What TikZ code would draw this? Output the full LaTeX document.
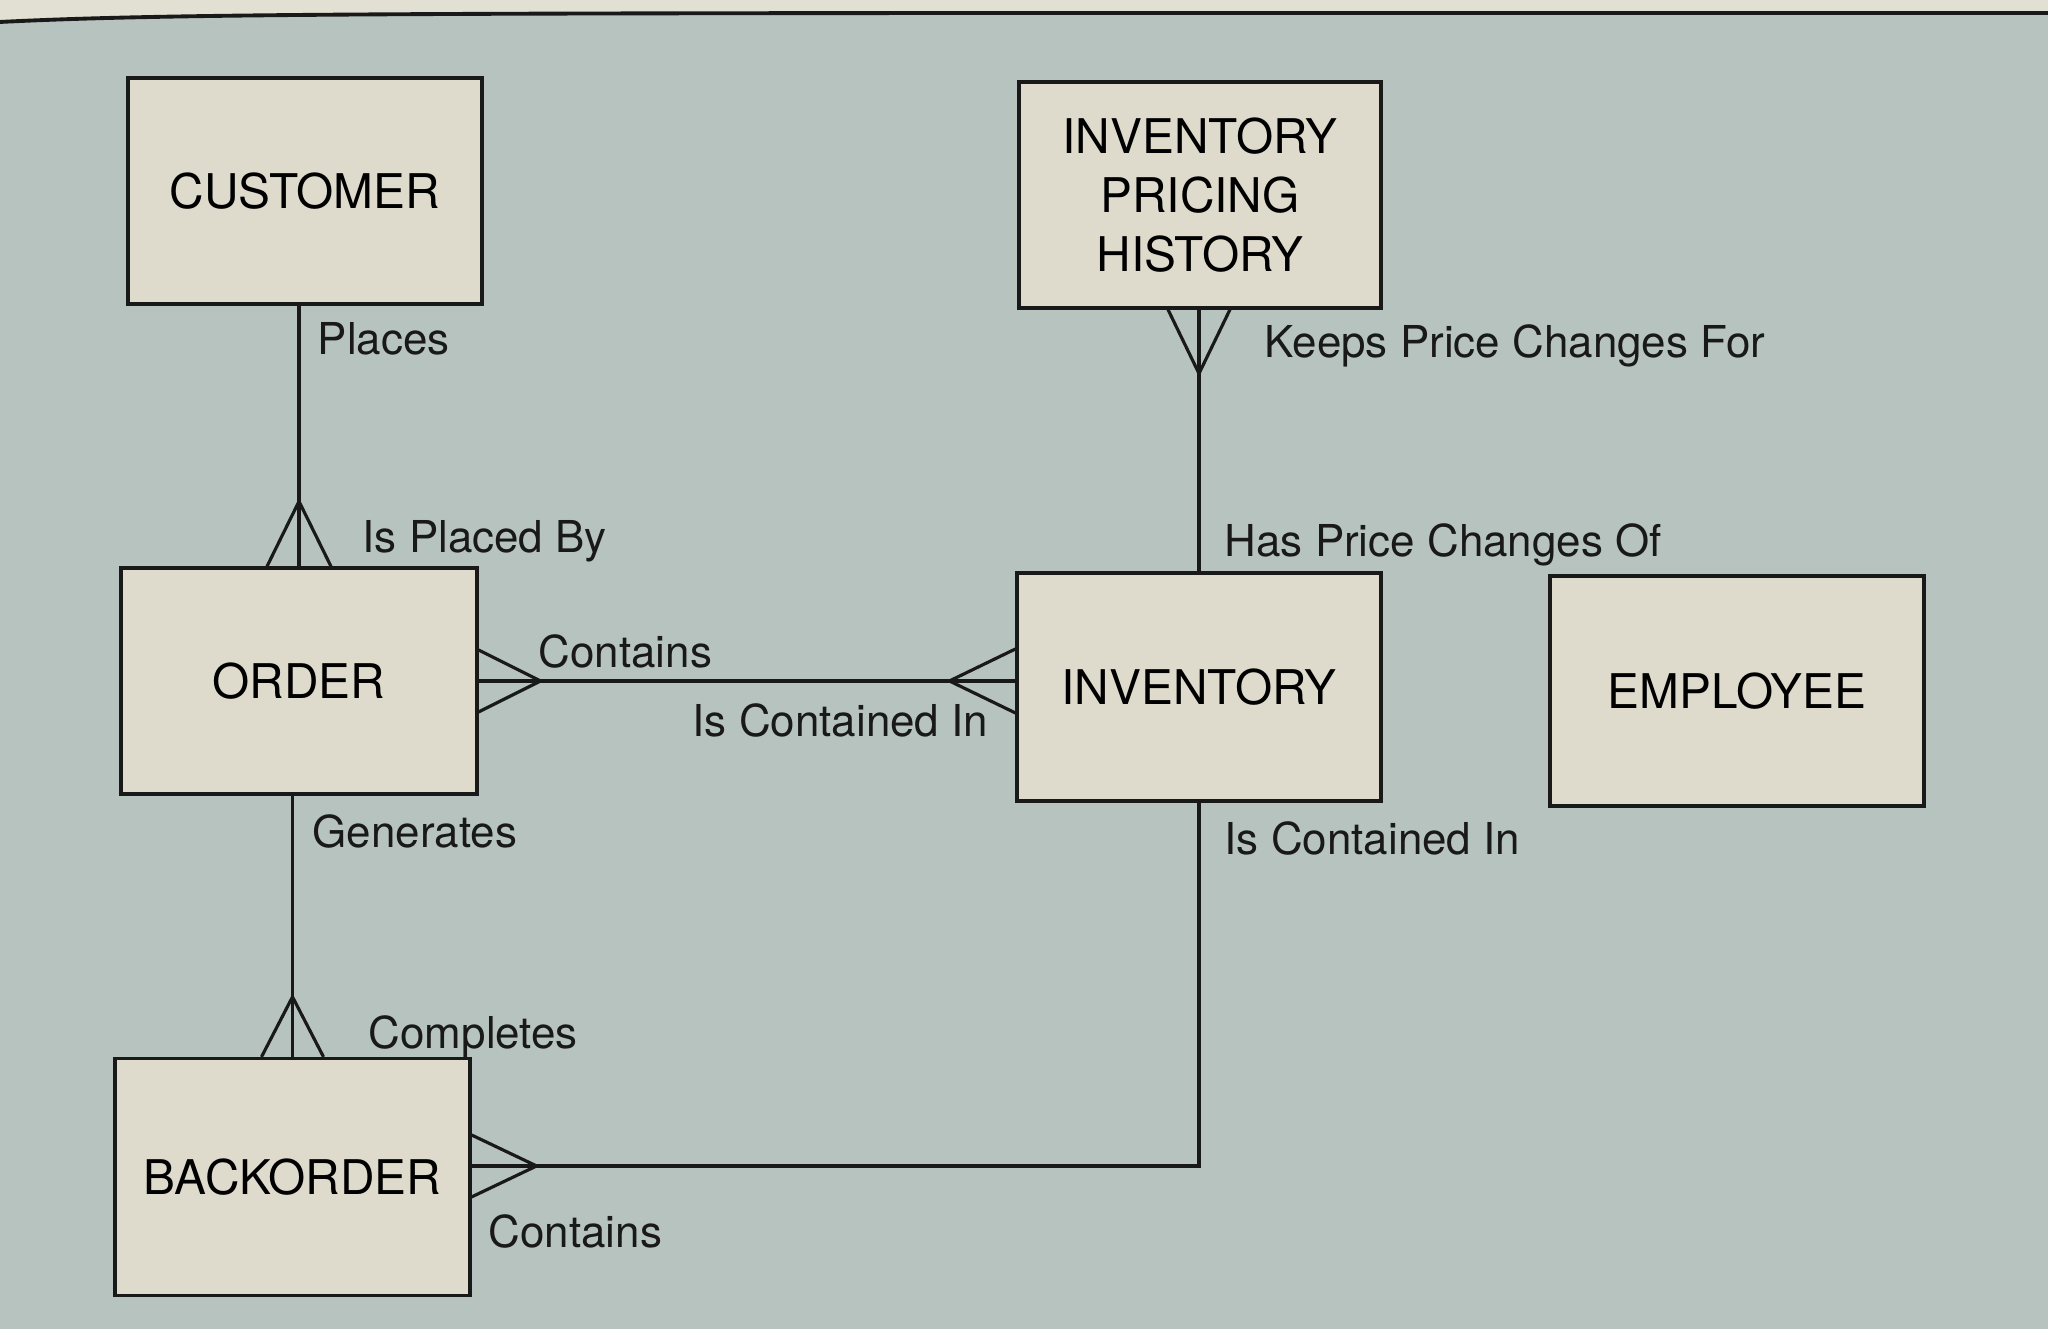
\documentclass[tikz,border=0pt]{standalone}
\usepackage{fontspec}
\setmainfont{TeX Gyre Heros}
\usepackage{tikz}

\definecolor{pagegrey}{RGB}{182,195,190}
\definecolor{paper}{RGB}{226,223,211}
\definecolor{boxfill}{RGB}{222,218,204}
\definecolor{ink}{RGB}{25,25,25}

\tikzset{
    entity/.style = {draw = ink, fill = boxfill, line width = 0.9pt, inner sep = 0pt,
        align = center, font = \fontsize{13.6}{16.8}\selectfont},
    rel/.style = {anchor = base west, inner sep = 0pt, text = ink,
        font = \fontsize{12.5}{15}\selectfont},
    link/.style = {draw = ink, line width = 0.9pt}
}

\begin{document}
\begin{tikzpicture}
        \useasboundingbox (0,0) rectangle (20.48,13.29);
        \fill [pagegrey] (0,0) rectangle (20.48,13.29);
        \fill [paper]
        (0,13.29) -- (0,13.07) .. controls (2,13.17) and (5,13.16) .. (20.48,13.16) -- (20.48,13.29) -- cycle;
        \draw [ink, line width = 1.1pt]
        (0,13.07) .. controls (2,13.17) and (5,13.16) .. (20.48,13.16);

        \node [entity, minimum width = 3.54cm, minimum height = 2.26cm] (cust) at (3.05,11.38) {CUSTOMER};
        \node [entity, minimum width = 3.62cm, minimum height = 2.26cm] (iph) at (12.00,11.34) {INVENTORY\\PRICING\\HISTORY};
        \node [entity, minimum width = 3.56cm, minimum height = 2.26cm] (ordr) at (2.99,6.48) {ORDER};
        \node [entity, minimum width = 3.64cm, minimum height = 2.28cm] (inv) at (11.99,6.42) {INVENTORY};
        \node [entity, minimum width = 3.74cm, minimum height = 2.30cm] (emp) at (17.37,6.38) {EMPLOYEE};
        \node [entity, minimum width = 3.55cm, minimum height = 2.37cm] (bko) at (2.925,1.52) {BACKORDER};

        \coordinate (oi) at (ordr.east -| inv.west);
        \coordinate (ip) at (inv.north |- iph.south);
        \coordinate (bkoe) at ([yshift = 1.1mm]bko.east);

        \draw [link]
        (ordr.north) -- (ordr.north |- cust.south);
        \draw [link]
        (ordr.north) ++(-0.32,0) -- ++(0.32,0.65) -- ++(0.32,-0.65);

        \draw [link]
        (ordr.east) -- (oi);
        \draw [link]
        (ordr.east) ++(0,0.31) -- ++(0.62,-0.31) -- ++(-0.62,-0.31);
        \draw [link]
        (oi) ++(0,0.32) -- ++(-0.66,-0.32) -- ++(0.66,-0.32);

        \draw [link]
        (inv.north) -- (ip);
        \draw [link]
        (ip) ++(-0.31,0) -- ++(0.31,-0.64) -- ++(0.31,0.64);

        \draw [link]
        (bko.north) -- (bko.north |- ordr.south);
        \draw [link]
        (bko.north) ++(-0.31,0) -- ++(0.31,0.60) -- ++(0.31,-0.60);

        \draw [link]
        (bkoe) -- (bkoe -| inv.south) -- (inv.south);
        \draw [link]
        (bkoe) ++(0,0.31) -- ++(0.65,-0.31) -- ++(-0.65,-0.31);

        \node [rel] (places) at (3.17,9.74) {Places};
        \node [rel] (placedby) at (3.62,7.76) {Is Placed By};
        \node [rel] (ocontains) at (5.38,6.61) {Contains};
        \node [rel] (icontained) at (6.92,5.92) {Is Contained In};
        \node [rel] (keeps) at (12.64,9.71) {Keeps Price Changes For};
        \node [rel] (haschanges) at (12.24,7.72) {Has Price Changes Of};
        \node [rel] (generates) at (3.12,4.81) {Generates};
        \node [rel] (completes) at (3.68,2.80) {Completes};
        \node [rel] (bcontained) at (12.24,4.74) {Is Contained In};
        \node [rel] (bcontains) at (4.88,0.81) {Contains};
    \end{tikzpicture}
\end{document}
